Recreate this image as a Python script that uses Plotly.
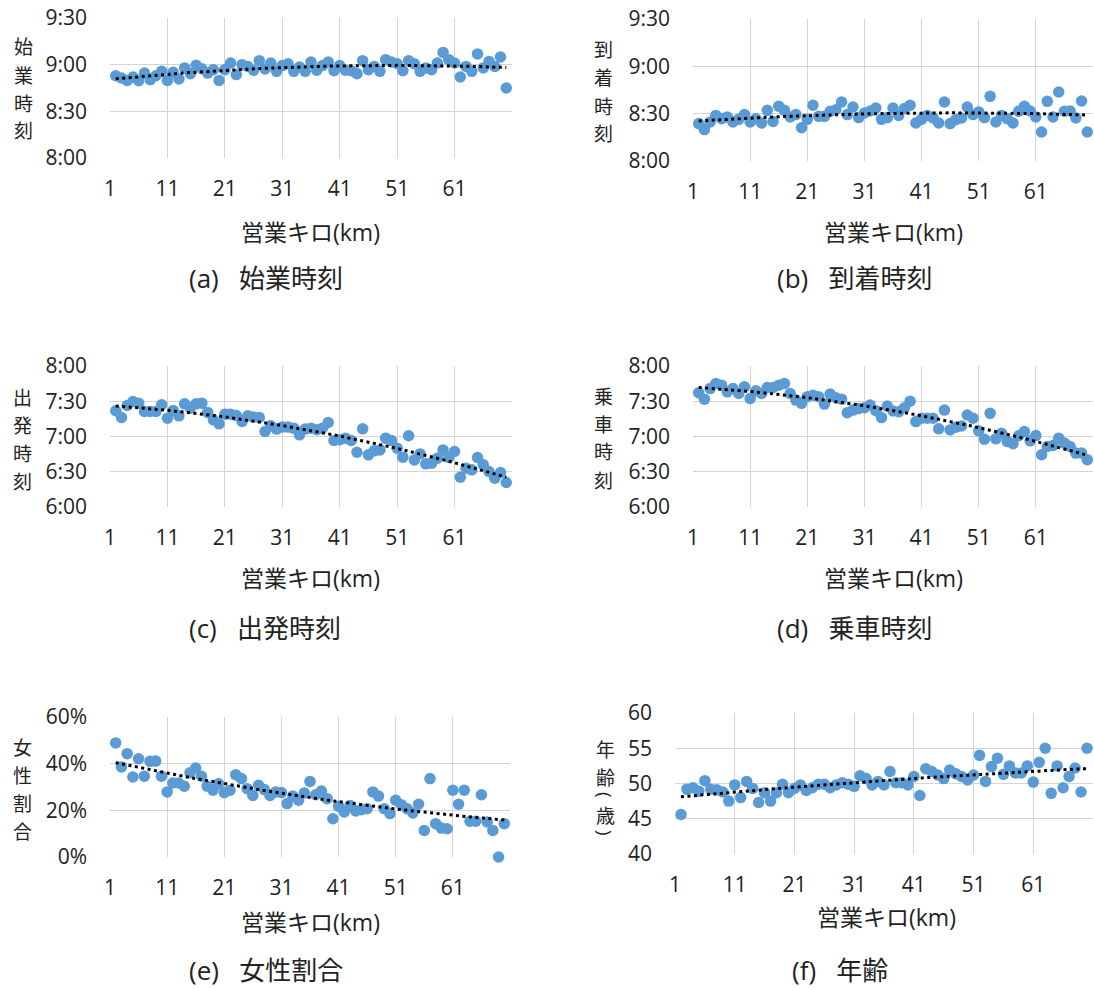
import numpy as np
import plotly.graph_objects as go

W, H = 1094, 990
FONT_JP = "Noto Sans CJK JP"
FONT_NUM = "Open Sans, Noto Sans CJK JP"
TXT = "#222222"

# ---------------- data ----------------
km = list(range(2, 71))

# minutes since midnight
start_time = [532.9, 531.4, 529.9, 532.1, 529.7, 534.6, 530.4, 532.9, 535.7, 529.9,
              535.1, 530.8, 537.9, 534.2, 539.6, 537.4, 534.6, 536.8, 529.9, 536.8,
              541.1, 533.6, 540.0, 538.9, 536.4, 542.6, 537.2, 541.1, 535.7, 539.4,
              540.6, 535.7, 538.5, 535.7, 541.7, 536.4, 539.4, 541.7, 536.1, 539.4,
              536.4, 536.1, 534.2, 542.6, 536.8, 538.9, 535.7, 543.2, 541.7, 540.6,
              536.1, 542.6, 540.6, 535.7, 537.9, 536.8, 541.1, 547.9, 543.2, 541.1,
              532.1, 538.9, 535.7, 546.9, 537.9, 542.1, 538.9, 544.9, 525.0]

arrive_time = [503.7, 499.9, 504.7, 508.9, 506.8, 507.9, 504.7, 506.4, 509.4, 504.7,
               506.8, 504.1, 512.1, 505.1, 514.7, 512.1, 507.9, 509.4, 501.1, 506.4,
               515.3, 508.3, 508.3, 511.5, 512.5, 517.4, 509.4, 514.2, 507.5, 510.4,
               511.7, 513.6, 506.4, 507.5, 513.6, 508.9, 513.2, 515.3, 504.1, 506.4,
               508.9, 507.3, 504.1, 517.4, 503.7, 506.2, 507.3, 514.2, 509.4, 511.1,
               507.5, 521.0, 504.7, 508.9, 506.8, 504.1, 511.5, 514.7, 511.7, 507.9,
               498.4, 517.8, 507.9, 523.7, 511.5, 511.7, 507.3, 518.0, 498.4]

depart_time = [441.9, 436.2, 446.4, 449.8, 448.4, 441.3, 441.3, 441.3, 447.0, 435.6,
               442.2, 437.6, 447.8, 444.1, 447.8, 448.4, 440.5, 434.2, 430.8, 439.0,
               439.0, 437.9, 432.8, 437.6, 436.5, 436.2, 424.3, 429.1, 426.3, 428.0,
               428.0, 427.1, 421.4, 426.3, 427.1, 425.7, 427.1, 431.9, 416.6, 417.2,
               418.6, 416.6, 406.6, 426.5, 404.4, 407.8, 408.6, 418.6, 416.6, 410.1,
               402.4, 420.6, 400.1, 405.2, 396.7, 397.3, 401.5, 408.6, 402.1, 407.2,
               385.3, 393.0, 391.6, 402.1, 395.9, 390.2, 384.5, 389.3, 380.8]

board_time = [457.2, 451.8, 460.8, 465.1, 463.7, 458.0, 460.8, 456.6, 462.3, 452.4,
              458.9, 456.6, 461.7, 461.7, 463.7, 465.1, 456.6, 451.0, 448.2, 453.8,
              455.2, 453.8, 447.6, 456.1, 453.0, 451.8, 440.3, 442.5, 443.9, 444.5,
              446.8, 442.0, 436.1, 445.9, 441.7, 441.1, 444.5, 450.1, 432.7, 435.5,
              435.5, 435.5, 426.5, 442.5, 425.6, 427.9, 429.0, 438.3, 435.5, 424.8,
              417.7, 439.7, 418.0, 422.8, 415.8, 413.8, 420.6, 424.2, 416.3, 420.8,
              404.5, 411.5, 412.4, 418.6, 414.4, 411.5, 405.9, 405.9, 400.3]

female_pct = [48.9, 38.6, 44.3, 34.3, 42.1, 34.6, 41.0, 41.1, 34.6, 27.9,
              31.7, 31.7, 30.3, 36.1, 38.1, 34.6, 30.4, 28.6, 31.4, 27.6,
              28.6, 35.3, 33.6, 29.3, 26.4, 30.7, 28.9, 26.4, 27.9, 27.6,
              22.9, 26.1, 24.3, 27.4, 32.4, 26.7, 28.3, 25.0, 16.4, 21.7,
              19.3, 22.1, 19.7, 20.3, 20.7, 27.9, 26.1, 20.7, 18.6, 24.3,
              22.4, 20.7, 18.9, 22.6, 11.4, 33.6, 14.3, 12.4, 12.1, 28.6,
              22.6, 28.6, 15.3, 15.3, 26.7, 15.0, 11.4, 0.0, 14.3]

age = [45.6, 49.2, 49.4, 48.9, 50.4, 49.2, 49.1, 48.8, 47.5, 49.8,
       48.0, 50.3, 49.3, 47.3, 48.7, 47.5, 48.7, 49.9, 48.7, 49.3,
       49.8, 49.0, 49.4, 49.9, 49.9, 49.4, 49.8, 50.1, 49.9, 49.6,
       51.1, 50.7, 49.8, 50.3, 49.8, 51.7, 50.1, 50.1, 49.8, 51.0,
       48.3, 52.1, 51.7, 51.2, 50.7, 51.9, 51.4, 51.0, 50.5, 51.2,
       54.0, 50.3, 52.4, 53.6, 51.3, 52.5, 51.5, 51.5, 52.5, 50.2,
       53.0, 55.0, 48.6, 52.5, 49.4, 51.0, 52.2, 48.8, 55.0]

x_ticks = [1, 11, 21, 31, 41, 51, 61, 71]
x_ticklabels = ["1", "11", "21", "31", "41", "51", "61", ""]

morning_ticks = [480, 510, 540, 570]
morning_labels = ["8:00", "8:30", "9:00", "9:30"]
early_ticks = [360, 390, 420, 450, 480]
early_labels = ["6:00", "6:30", "7:00", "7:30", "8:00"]
pct_ticks = [0, 20, 40, 60]
pct_labels = ["0%", "20%", "40%", "60%"]
age_ticks = [40, 45, 50, 55, 60]
age_labels = ["40", "45", "50", "55", "60"]

x_title = "営業キロ(km)"
SP = "\u00a0\u00a0\u00a0"

# vertical axis titles: (character, rotation)
ytitle_a = [("始", 0), ("業", 0), ("時", 0), ("刻", 0)]
ytitle_b = [("到", 0), ("着", 0), ("時", 0), ("刻", 0)]
ytitle_c = [("出", 0), ("発", 0), ("時", 0), ("刻", 0)]
ytitle_d = [("乗", 0), ("車", 0), ("時", 0), ("刻", 0)]
ytitle_e = [("女", 0), ("性", 0), ("割", 0), ("合", 0)]
ytitle_f = [("年", 0), ("齢", 0), ("(", 90), ("歳", 0), (")", 90)]

panels = [
    dict(y=start_time, yt=morning_ticks, yl=morning_labels, box=(110, 512, 18, 158),
         ych=ytitle_a, ychx=23, ychy=[46, 74, 102, 130], xty=232, xtx=310,
         sub="(a)" + SP + "始業時刻", subx=187, suby=278),
    dict(y=arrive_time, yt=morning_ticks, yl=morning_labels, box=(693, 1093, 19, 161),
         ych=ytitle_b, ychx=603, ychy=[49, 77, 105, 133], xty=232, xtx=893,
         sub="(b)" + SP + "到着時刻", subx=775, suby=278),
    dict(y=depart_time, yt=early_ticks, yl=early_labels, box=(110, 512, 366, 507),
         ych=ytitle_c, ychx=22, ychy=[396, 424, 452, 480], xty=578, xtx=310,
         sub="(c)" + SP + "出発時刻", subx=187, suby=628),
    dict(y=board_time, yt=early_ticks, yl=early_labels, box=(693, 1093, 366, 507),
         ych=ytitle_d, ychx=603, ychy=[395, 423, 451, 479], xty=578, xtx=893,
         sub="(d)" + SP + "乗車時刻", subx=775, suby=628),
    dict(y=female_pct, yt=pct_ticks, yl=pct_labels, box=(110, 510, 717, 857),
         ych=ytitle_e, ychx=22, ychy=[746, 774, 802, 830], xty=922, xtx=310,
         sub="(e)" + SP + "女性割合", subx=187, suby=970),
    dict(y=age, yt=age_ticks, yl=age_labels, box=(675, 1093, 713, 854),
         ych=ytitle_f, ychx=605, ychy=[748, 776, 795, 814, 833], xty=917, xtx=886,
         sub="(f)" + SP + "年齢", subx=790, suby=970),
]


def px(xpix):
    return xpix / W


def py(ypix):
    return 1 - ypix / H


fig = go.Figure()
annotations = []
for i, p in enumerate(panels):
    n = "" if i == 0 else str(i + 1)
    xa, ya = "x" + n, "y" + n
    l, r, t, b = p["box"]
    # polynomial (2nd order) trendline fitted to the data
    coef = np.polyfit(km, p["y"], 2)
    xt = np.linspace(km[0], km[-1], 80)
    fig.add_trace(go.Scatter(x=km, y=p["y"], mode="markers", xaxis=xa, yaxis=ya,
                             marker=dict(color="#5b9bd5", size=11.5),
                             showlegend=False, cliponaxis=False))
    fig.add_trace(go.Scatter(x=list(xt), y=list(np.polyval(coef, xt)), mode="lines",
                             xaxis=xa, yaxis=ya,
                             line=dict(color="black", width=3, dash="3px,3.5px"),
                             showlegend=False))
    span = p["yt"][-1] - p["yt"][0]
    fig.update_layout(**{
        "xaxis" + n: dict(domain=[px(l), px(r)], anchor=ya, range=[0.999, 71.001],
                          tickvals=x_ticks, ticktext=x_ticklabels,
                          showgrid=True, gridcolor="#d4d4d4", gridwidth=1,
                          zeroline=False, showline=False, ticks="",
                          automargin=False, ticklabelstandoff=16,
                          ticklabeloverflow="allow",
                          tickfont=dict(family=FONT_NUM, size=21, color=TXT)),
        "yaxis" + n: dict(domain=[py(b), py(t)], anchor=xa,
                          range=[p["yt"][0] - span * 1e-4, p["yt"][-1] + span * 1e-4],
                          tickvals=p["yt"], ticktext=p["yl"],
                          showgrid=True, gridcolor="#d4d4d4", gridwidth=1,
                          zeroline=False, showline=False, ticks="",
                          automargin=False, ticklabelstandoff=22,
                          ticklabeloverflow="allow",
                          tickfont=dict(family=FONT_NUM, size=21, color=TXT)),
    })
    for (ch, ang), cy in zip(p["ych"], p["ychy"]):
        annotations.append(dict(text=ch, x=px(p["ychx"]), y=py(cy), textangle=ang,
                                xref="paper", yref="paper", showarrow=False,
                                xanchor="center", yanchor="middle",
                                font=dict(family=FONT_JP if ang == 0 else FONT_NUM,
                                          size=19, color=TXT)))
    annotations.append(dict(text=x_title, x=px(p["xtx"]), y=py(p["xty"]),
                            xref="paper", yref="paper", showarrow=False,
                            xanchor="center", yanchor="middle",
                            font=dict(family=FONT_NUM, size=23, color=TXT)))
    annotations.append(dict(text=p["sub"], x=px(p["subx"]), y=py(p["suby"]),
                            xref="paper", yref="paper", showarrow=False,
                            xanchor="left", yanchor="middle",
                            font=dict(family=FONT_NUM, size=26, color=TXT)))

fig.update_layout(width=W, height=H,
                  margin=dict(l=0, r=0, t=0, b=0, pad=0, autoexpand=False),
                  paper_bgcolor="white", plot_bgcolor="white",
                  hovermode=False,
                  annotations=annotations, showlegend=False)
fig.write_html("out.html",
               config={"displayModeBar": False, "staticPlot": True},
               post_script="document.body.style.margin='0px';"
                           "document.body.style.overflow='hidden';")
